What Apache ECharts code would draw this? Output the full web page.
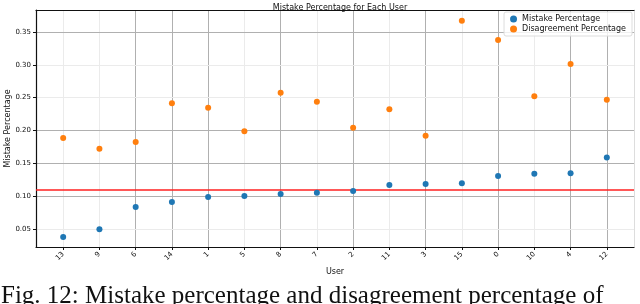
<!DOCTYPE html>
<html><head><meta charset="utf-8">
<script src="https://cdn.jsdelivr.net/npm/echarts@6/dist/echarts.min.js"></script>
<style>html,body{margin:0;padding:0;background:#fff}#c{width:640px;height:304px}</style>
</head><body><div id="c"></div>
<script>
const users = ['13','9','6','14','1','5','8','7','2','11','3','15','0','10','4','12'];
const mistake = [0.038,0.0495,0.0835,0.091,0.0987,0.1002,0.1033,0.1053,0.1079,0.117,0.1185,0.1196,0.1307,0.1342,0.1348,0.159];
const disagreement = [0.1886,0.1723,0.1825,0.2414,0.2347,0.1988,0.2576,0.2438,0.2043,0.2323,0.1921,0.3672,0.3378,0.2521,0.3013,0.2469];
const meanLine = 0.1057;
const yTicks = [0.05,0.10,0.15,0.20,0.25,0.30,0.35];
const title = 'Mistake Percentage for Each User';
const caption = 'Fig. 12: Mistake percentage and disagreement percentage of';

const xIdx = users.map((u,i)=>i);
const xMin = -0.75, xMax = 15.75, yMin = 0.0226, yMax = 0.3835;
const dark = '#b0b0b0', light = '#ebebeb';
const xGridTone = ['l','l','d','d','d','l','d','l','d','l','d','l','d','l','d','d'];
const yGridTone = ['l','d','d','d','l','l','d'];
const font = 'DejaVu Sans';

const gridMarks = [];
xIdx.forEach((i,k)=>gridMarks.push([
  {coord:[i,yMin],lineStyle:{color:xGridTone[k]==='d'?dark:light,width:1,type:'solid'}},
  {coord:[i,yMax]}]));
yTicks.forEach((v,k)=>gridMarks.push([
  {coord:[xMin,v],lineStyle:{color:yGridTone[k]==='d'?dark:light,width:1,type:'solid'}},
  {coord:[xMax,v]}]));

const chart = echarts.init(document.getElementById('c'));
chart.setOption({
  animation:false,
  backgroundColor:'#fff',
  title:{text:title,left:335,top:-1,textAlign:'center',textStyle:{fontFamily:font,fontSize:8,fontWeight:'normal',color:'#111'}},
  legend:{
    right:8,top:12,orient:'vertical',itemGap:2,itemWidth:7,itemHeight:7,icon:'circle',
    backgroundColor:'rgba(255,255,255,0.8)',borderColor:'#ddd',borderWidth:1,borderRadius:2,padding:[3,6,3,6],
    textStyle:{fontFamily:font,fontSize:8,color:'#111'},
    data:['Mistake Percentage','Disagreement Percentage']
  },
  grid:{left:36,top:10,right:6,bottom:57,containLabel:false,outerBoundsMode:'none'},
  xAxis:[{
    type:'value',min:xMin,max:xMax,
    name:'User',nameLocation:'middle',nameGap:21,nameMoveOverlap:false,nameTextStyle:{fontFamily:font,fontSize:8,color:'#111'},
    axisLine:{onZero:false,lineStyle:{color:'#111',width:1.2}},
    axisTick:{show:true,length:3,customValues:xIdx,lineStyle:{color:'#111'}},
    axisLabel:{customValues:xIdx,rotate:45,fontFamily:font,fontSize:7,color:'#111',margin:6,formatter:v=>users[Math.round(v)]},
    splitLine:{show:false}
  },{
    type:'value',position:'top',min:xMin,max:xMax,
    axisLine:{show:true,onZero:false,lineStyle:{color:'#111',width:1.2}},axisTick:{show:false},axisLabel:{show:false},splitLine:{show:false}
  }],
  yAxis:[{
    type:'value',min:yMin,max:yMax,
    name:'Mistake Percentage',nameLocation:'middle',nameGap:24,nameMoveOverlap:false,nameRotate:90,nameTextStyle:{fontFamily:font,fontSize:8,color:'#111'},
    axisLine:{show:true,onZero:false,lineStyle:{color:'#111',width:1.2}},
    axisTick:{show:true,length:3,customValues:yTicks,lineStyle:{color:'#111'}},
    axisLabel:{customValues:yTicks,fontFamily:font,fontSize:7,color:'#111',margin:5,formatter:v=>v.toFixed(2)},
    splitLine:{show:false}
  },{
    type:'value',position:'right',min:yMin,max:yMax,
    axisLine:{show:true,onZero:false,lineStyle:{color:'#ddd',width:1}},axisTick:{show:false},axisLabel:{show:false},splitLine:{show:false}
  }],
  series:[{
    name:'grid',type:'scatter',data:[],z:0,silent:true,
    markLine:{z:0,silent:true,symbol:'none',label:{show:false},emphasis:{disabled:true},animation:false,data:gridMarks}
  },{
    name:'Mistake Percentage',type:'scatter',symbolSize:6,itemStyle:{color:'#1f77b4',opacity:1},
    data:mistake.map((v,i)=>[i,v]),z:3,
    markLine:{z:2,silent:true,symbol:'none',label:{show:false},lineStyle:{color:'#ff2020',width:1.5,type:'solid'},data:[{yAxis:meanLine}]}
  },{
    name:'Disagreement Percentage',type:'scatter',symbolSize:6,itemStyle:{color:'#ff7f0e',opacity:1},
    data:disagreement.map((v,i)=>[i,v]),z:3
  }],
  graphic:[{type:'text',left:1,top:284,style:{text:caption,fontFamily:'Liberation Serif',fontSize:25,fill:'#111'}}]
});
</script></body></html>
